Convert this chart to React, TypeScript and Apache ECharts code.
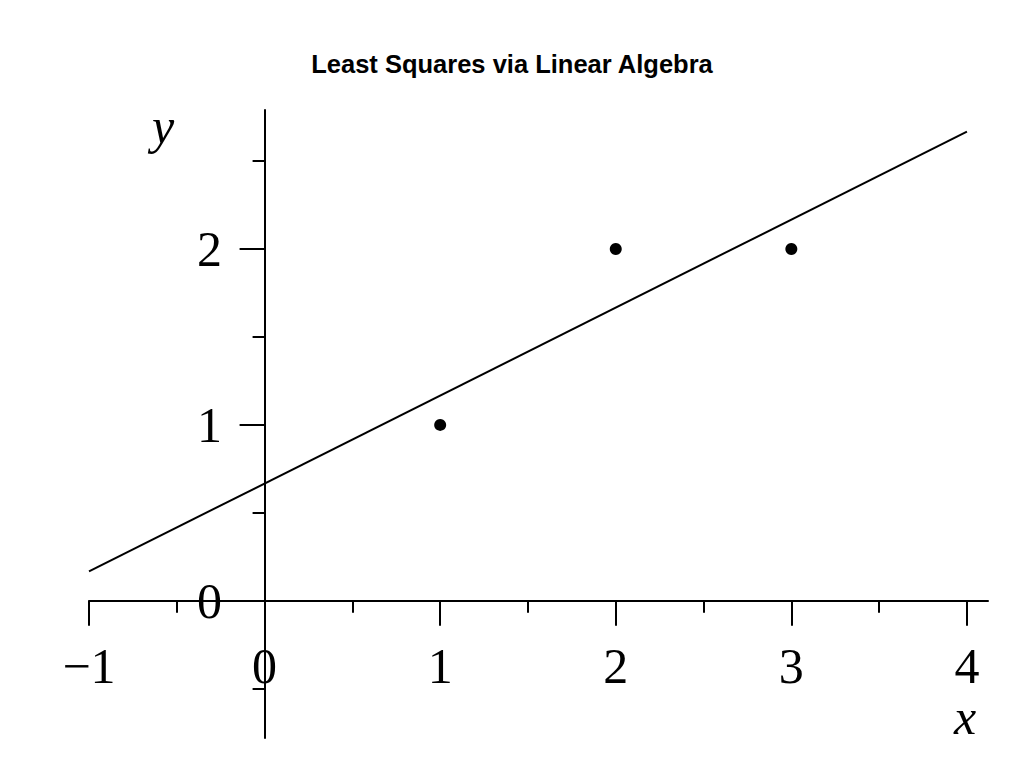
import React, { useEffect, useRef } from "react";
import * as echarts from "echarts";

const titleText = "Least Squares via Linear Algebra";
const xRange = [-1, 4.12];
const yRange = [-0.78, 2.79];
const xMajorTicks = [-1, 0, 1, 2, 3, 4];
const xMinorTicks = [-0.5, 0.5, 1.5, 2.5, 3.5];
const yMajorTicks = [0, 1, 2];
const yMinorTicks = [-0.5, 0.5, 1.5, 2.5];
const pointsX = [1, 2, 3];
const pointsY = [1, 2, 2];
const fitX = [-1, 4];
const fitY = [0.167, 2.667];
const xAxisName = "x";
const yAxisName = "y";

const SERIF = '"Liberation Serif", "DejaVu Serif", serif';

const fmt = (v: number) => String(v).replace("-", "\u2212");

export default function App() {
  const ref = useRef<HTMLDivElement>(null);
  useEffect(() => {
    if (!ref.current) return;
    const chart = echarts.init(ref.current, undefined, { renderer: "svg" });
    const axisLine = { onZero: true, onZeroAxisIndex: 0, lineStyle: { color: "#000", width: 2 } };
    const labelBase = { color: "#000", fontFamily: SERIF, fontSize: 50 };
    chart.setOption({
      animation: false,
      backgroundColor: "#fff",
      title: {
        text: titleText,
        left: "center",
        top: 51,
        padding: 0,
        textStyle: { fontFamily: '"Liberation Sans", Arial, sans-serif', fontWeight: "bold", fontSize: 25.5, color: "#000" },
      },
      grid: { left: 89, right: 36, top: 110, bottom: 30, containLabel: false, outerBoundsMode: "none" },
      xAxis: [
        {
          type: "value",
          position: "bottom",
          min: xRange[0],
          max: xRange[1],
          axisLine,
          splitLine: { show: false },
          axisTick: { show: true, length: 25, customValues: xMajorTicks, lineStyle: { color: "#000", width: 2 } },
          axisLabel: { ...labelBase, customValues: xMajorTicks, margin: -97, formatter: fmt },
        },
        {
          type: "value",
          position: "bottom",
          min: xRange[0],
          max: xRange[1],
          axisLine: { ...axisLine, show: false },
          splitLine: { show: false },
          axisTick: { show: true, length: 12, customValues: xMinorTicks, lineStyle: { color: "#000", width: 2 } },
          axisLabel: { show: false },
        },
      ],
      yAxis: [
        {
          type: "value",
          position: "left",
          min: yRange[0],
          max: yRange[1],
          axisLine,
          splitLine: { show: false },
          axisTick: { show: true, length: 25, customValues: yMajorTicks, lineStyle: { color: "#000", width: 2 } },
          axisLabel: { ...labelBase, customValues: yMajorTicks, margin: -133, padding: [10, 0, 0, 0], formatter: fmt },
        },
        {
          type: "value",
          position: "left",
          min: yRange[0],
          max: yRange[1],
          axisLine: { ...axisLine, show: false },
          splitLine: { show: false },
          axisTick: { show: true, length: 12, customValues: yMinorTicks, lineStyle: { color: "#000", width: 2 } },
          axisLabel: { show: false },
        },
      ],
      graphic: [
        {
          type: "text",
          x: 163,
          y: 126,
          style: { text: yAxisName, fontFamily: SERIF, fontStyle: "italic", fontSize: 50, fill: "#000", align: "center", verticalAlign: "middle" },
        },
        {
          type: "text",
          x: 965,
          y: 717,
          style: { text: xAxisName, fontFamily: SERIF, fontStyle: "italic", fontSize: 50, fill: "#000", align: "center", verticalAlign: "middle" },
        },
      ],
      series: [
        {
          type: "line",
          xAxisIndex: 0,
          yAxisIndex: 0,
          data: fitX.map((x, i) => [x, fitY[i]]),
          showSymbol: false,
          symbol: "none",
          lineStyle: { color: "#000", width: 2 },
          silent: true,
        },
        {
          type: "scatter",
          xAxisIndex: 0,
          yAxisIndex: 0,
          data: pointsX.map((x, i) => [x, pointsY[i]]),
          symbolSize: 12,
          itemStyle: { color: "#000", opacity: 1 },
        },
      ],
    });
    return () => chart.dispose();
  }, []);
  return <div ref={ref} style={{ position: "absolute", left: 0, top: 0, width: 1024, height: 768 }} />;
}
